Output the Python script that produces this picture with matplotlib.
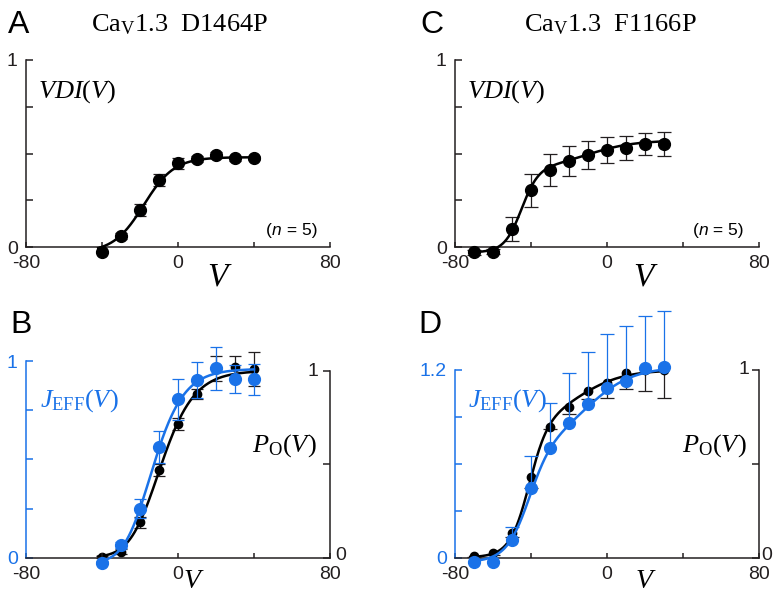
import numpy as np
import matplotlib
matplotlib.use('Agg')
import matplotlib.pyplot as plt

plt.rcParams['font.family'] = 'Liberation Sans'
plt.rcParams['mathtext.fontset'] = 'custom'
plt.rcParams['mathtext.rm'] = 'Liberation Serif'
plt.rcParams['mathtext.it'] = 'Liberation Serif:italic'
plt.rcParams['mathtext.bf'] = 'Liberation Serif:bold'

BLUE = '#1a72e8'
INK = '#231f20'
W, H = 773, 593

# ---- values ----
# A: CaV1.3 D1464P, VDI(V)
v_a = [-40, -30, -20, -10, 0, 10, 20, 30, 40]
vdi_a = [-0.028, 0.059, 0.198, 0.358, 0.447, 0.471, 0.492, 0.474, 0.476]
vdi_a_err = [0.005, 0.015, 0.03, 0.033, 0.028, 0.015, 0.018, 0.012, 0.012]

# C: CaV1.3 F1166P, VDI(V)
v_c = [-70, -60, -50, -40, -30, -20, -10, 0, 10, 20, 30]
vdi_c = [-0.029, -0.025, 0.098, 0.303, 0.412, 0.462, 0.494, 0.519, 0.531, 0.549, 0.549]
vdi_c_err = [0.012, 0.012, 0.064, 0.089, 0.084, 0.080, 0.075, 0.071, 0.064, 0.059, 0.064]

# B: D1464P, Po(V) (right axis) and Jeff(V) (left axis)
v_b = [-40, -30, -20, -10, 0, 10, 20, 30, 40]
po_b = [0.005, 0.032, 0.189, 0.469, 0.713, 0.875, 1.01, 1.018, 1.009]
po_b_err = [0.005, 0.012, 0.03, 0.03, 0.032, 0.025, 0.066, 0.06, 0.09]
jeff_b = [-0.025, 0.064, 0.249, 0.563, 0.805, 0.903, 0.963, 0.908, 0.907]
jeff_b_err = [0.008, 0.015, 0.047, 0.083, 0.103, 0.092, 0.110, 0.071, 0.078]

# D: F1166P, Po(V) (right axis, error down) and Jeff(V) (left axis, error up)
v_d = [-70, -60, -50, -40, -30, -20, -10, 0, 10, 20, 30]
po_d = [0.009, 0.027, 0.13, 0.432, 0.698, 0.805, 0.89, 0.932, 0.986, 1.0, 1.0]
po_d_err = [0.005, 0.01, 0.02, 0.06, 0.012, 0.04, 0.045, 0.083, 0.089, 0.11, 0.15]
jeff_d = [-0.026, -0.026, 0.113, 0.443, 0.699, 0.863, 0.98, 1.087, 1.132, 1.215, 1.221]
jeff_d_err = [0.0, 0.0, 0.085, 0.207, 0.288, 0.32, 0.337, 0.345, 0.35, 0.328, 0.356]

# Boltzmann fit parameters: baseline, [(amplitude, V1/2, slope, power)], V range
fit_vdi_a = (-0.03, [(0.51, -18, 8, 1)], (-42, 40))
fit_vdi_c = (-0.03, [(0.45, -45, 4.5, 1), (0.15, -10, 12, 1)], (-72, 30))
fit_po_b = (0.0, [(1.0, -17.5, 10, 2)], (-42, 40))
fit_jeff_b = (-0.03, [(0.99, -21.2, 9.3, 2)], (-40, 40))
fit_po_d = (0.0, [(0.72, -41, 5, 1), (0.28, -15, 12, 1)], (-72, 30))
fit_jeff_d = (-0.03, [(0.75, -41, 6, 1), (0.5, -10, 12, 1)], (-72, 30))


def fit_curve(p):
    lo, terms, (v0, v1) = p
    v = np.linspace(v0, v1, 300)
    y = np.full_like(v, lo)
    for amp, vh, k, n in terms:
        y += amp / (1 + np.exp((vh - v) / k)) ** n
    return v, y


fig = plt.figure(figsize=(W / 100, H / 100), dpi=100)


def ftext(x, y, s, **kw):
    return fig.text(x / W, 1 - y / H, s, **kw)


def px_axes(x0, x1, ytop, ybot):
    return fig.add_axes([x0 / W, 1 - ybot / H, (x1 - x0) / W, (ybot - ytop) / H])


def style(ax, ycolor, yticks, ylabels):
    ax.set_xlim(-80, 80)
    ax.patch.set_visible(False)
    for s in ['top', 'right']:
        ax.spines[s].set_visible(False)
    ax.spines['bottom'].set_color(INK)
    ax.spines['left'].set_color(ycolor)
    for s in ['bottom', 'left']:
        ax.spines[s].set_linewidth(1.1)
    ax.set_xticks([-80, -40, 0, 40, 80], ['-80', '', '0', '', '80'])
    ax.set_yticks(yticks, ylabels)
    ax.tick_params(axis='x', direction='in', length=3.5, width=1.1, colors=INK,
                   labelsize=14, pad=6)
    ax.tick_params(axis='y', direction='in', length=5, width=1.1, colors=ycolor,
                   labelsize=14, pad=6)


def ebar(ax, x, y, lo, hi, color, cap, lw=0.9):
    x, y, lo, hi = map(np.asarray, (x, y, lo, hi))
    ax.vlines(x, y - lo, y + hi, colors=color, lw=lw, clip_on=False, zorder=2)
    for m, yy in ((hi > 0, y + hi), (lo > 0, y - lo)):
        ax.plot(x[m], yy[m], ls='none', marker='_', ms=cap, mew=lw, color=color,
                clip_on=False, zorder=2)


def series(ax, x, y, lo, hi, fit, color, ms, cap, ecolor=None):
    ebar(ax, x, y, lo, hi, ecolor or color, cap)
    fv, fy = fit_curve(fit)
    ax.plot(fv, fy, color=color, lw=1.8, clip_on=False, zorder=3)
    ax.plot(x, y, 'o', ms=ms, color=color, mec=color, clip_on=False, zorder=4)


def twin(ax, ratio):
    ax2 = ax.twinx()
    ax2.set_ylim(0, ratio)
    for s in ['top', 'left', 'bottom']:
        ax2.spines[s].set_visible(False)
    ax2.spines['right'].set_bounds(0, 1)
    ax2.spines['right'].set_color(INK)
    ax2.spines['right'].set_linewidth(1.1)
    ax2.set_yticks([0, 0.5, 1], ['', '', ''])
    ax2.tick_params(axis='y', direction='in', length=5, width=1.1, colors=INK)
    ax.set_zorder(ax2.get_zorder() + 1)
    ax.patch.set_visible(False)
    return ax2


def n_label(x, y):
    # "(n = 5)" with a sans italic n
    t1 = ftext(x, y, '(', size=12.5, va='baseline')
    t2 = fig.add_artist(plt.Annotation('n', xy=(1, 0), xycoords=t1, size=12.5,
                                       style='italic', ha='left', va='bottom'))
    fig.add_artist(plt.Annotation(' = 5)', xy=(1, 0), xycoords=t2, size=12.5,
                                  ha='left', va='bottom'))


# ---- panel A ----
axA = px_axes(26, 330, 60, 247)
style(axA, INK, [0, 0.25, 0.5, 0.75, 1], ['0', '', '', '', '1'])
axA.set_ylim(0, 1)
series(axA, v_a, vdi_a, vdi_a_err, vdi_a_err, fit_vdi_a, 'black', 8.5, 9, INK)

# ---- panel C ----
axC = px_axes(455, 759, 60, 247)
style(axC, INK, [0, 0.25, 0.5, 0.75, 1], ['0', '', '', '', '1'])
axC.set_ylim(0, 1)
series(axC, v_c, vdi_c, vdi_c_err, vdi_c_err, fit_vdi_c, 'black', 8.5, 9.5, INK)

# ---- panel B ----
axB = px_axes(26, 330, 361, 557.7)
style(axB, BLUE, [0, 0.25, 0.5, 0.75, 1], ['0', '', '', '', '1'])
axB.set_ylim(0, 1)
axB2 = twin(axB, 196.7 / 187)
series(axB2, v_b, po_b, po_b_err, po_b_err, fit_po_b, 'black', 6, 9, INK)
series(axB, v_b, jeff_b, jeff_b_err, jeff_b_err, fit_jeff_b, BLUE, 8.5, 9)

# ---- panel D ----
axD = px_axes(455, 759, 370, 557.7)
style(axD, BLUE, [0, 0.3, 0.6, 0.9, 1.2], ['0', '', '', '', '1.2'])
axD.set_ylim(0, 1.2)
axD2 = twin(axD, 1.0)
zeros = np.zeros(len(v_d))
series(axD2, v_d, po_d, po_d_err, zeros, fit_po_d, 'black', 6, 10, INK)
series(axD, v_d, jeff_d, zeros, jeff_d_err, fit_jeff_d, BLUE, 8.5, 10)

# ---- text ----
serif = 'Liberation Serif'
for x, y, s in [(8, 33, 'A'), (10, 333, 'B'), (420, 33, 'C'), (418, 333, 'D')]:
    ftext(x, y, s, size=23, va='baseline')

ftext(180, 31, r'Ca$_{\mathrm{V}}$1.3  D1464P', family=serif, size=19,
      ha='center', va='baseline')
ftext(610, 31, r'Ca$_{\mathrm{V}}$1.3  F1166P', family=serif, size=19,
      ha='center', va='baseline')

ftext(38, 98, r'$VDI(V)$', size=19, va='baseline')
ftext(467, 98, r'$VDI(V)$', size=19, va='baseline')

n_label(266, 235)
n_label(693, 235)

for x, y, s in [(220, 286, 24), (646, 286, 24), (194, 588, 20), (646, 588, 20)]:
    ftext(x, y, r'$V$', size=s, ha='center', va='baseline')

ftext(40, 407, r'$J_{\mathrm{EFF}}(V)$', size=19, color=BLUE, va='baseline')
ftext(468, 407, r'$J_{\mathrm{EFF}}(V)$', size=19, color=BLUE, va='baseline')
ftext(252, 452, r'$P_{\mathrm{O}}(V)$', size=19, va='baseline')
ftext(682, 452, r'$P_{\mathrm{O}}(V)$', size=19, va='baseline')

# right-axis labels
for x, y, s in [(313, 371, '1'), (341, 556, '0'), (744, 370, '1'), (767, 556, '0')]:
    ftext(x, y, s, size=14, ha='center', va='center', color=INK)

fig.savefig('out.png', dpi=100)
